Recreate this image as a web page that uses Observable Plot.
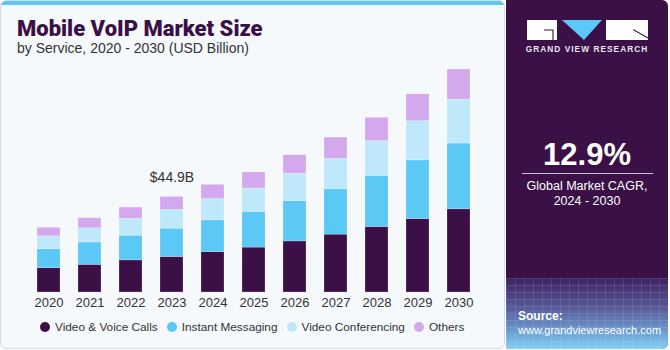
<!DOCTYPE html>
<html>
<head>
<meta charset="utf-8">
<script src="https://cdn.jsdelivr.net/npm/d3@7"></script>
<script src="https://cdn.jsdelivr.net/npm/@observablehq/plot@0.6"></script>
<style>
  html, body { margin: 0; padding: 0; background: #ffffff; }
  body { width: 670px; height: 350px; overflow: hidden; font-family: "Liberation Sans", Arial, sans-serif; }
  #wrap { position: relative; width: 670px; height: 350px; }
  #card { position: absolute; left: 0; top: 0; width: 503px; height: 347px; background: #f5f9fc; border: 1px solid #d5dbe1; border-radius: 6px; overflow: hidden; }
  #stripe { position: absolute; left: 0; top: 0; width: 100%; height: 4px; background: #5bc8f5; }
  #title { position: absolute; left: 17px; top: 16px; font-family: Roboto, "Liberation Sans", sans-serif; font-weight: 900; font-size: 22px; color: #3a1047; white-space: nowrap; }
  #subtitle { position: absolute; left: 17px; top: 40px; font-size: 14px; color: #333; white-space: nowrap; }
  #chart { position: absolute; left: 0; top: 0; }
  #legend { position: absolute; left: 40px; top: 320px; display: flex; align-items: center; font-size: 11.8px; color: #333; white-space: nowrap; }
  .item { display: flex; align-items: center; margin-right: 9px; }
  .dot { width: 10px; height: 10px; border-radius: 50%; margin-right: 5px; }
  #panel { position: absolute; left: 506px; top: 0; width: 162px; height: 349px; background: #3a1047; border-radius: 0 6px 6px 0; overflow: hidden; color: #fff; }
  #grad { position: absolute; left: 0; top: 278px; width: 100%; height: 71px;
    background:
      repeating-linear-gradient(to right, rgba(255,255,255,0.10) 0 1px, rgba(255,255,255,0) 1px 9px),
      repeating-linear-gradient(to bottom, rgba(255,255,255,0.10) 0 1px, rgba(255,255,255,0) 1px 7px),
      linear-gradient(to bottom, #3f2060, #5a5f9e 45%, #6fa6d8 80%, #86d0f2); }
  #brand { position: absolute; left: 0; top: 44px; width: 100%; text-align: center; font-size: 8.3px; font-weight: bold; letter-spacing: 1.05px; color: #e8e8f0; }
  #cagr { position: absolute; left: 0; top: 137px; width: 162px; text-align: center; font-size: 31px; font-weight: bold; }
  #rule { position: absolute; left: 16px; top: 173px; width: 131px; height: 1px; background: #c9c0d0; }
  #cagrtxt { position: absolute; left: 0; top: 179px; width: 162px; text-align: center; font-size: 12.5px; line-height: 15px; }
  #source { position: absolute; left: 12px; top: 309px; font-size: 11px; line-height: 14px; }
  #source b { font-size: 12px; }
</style>
</head>
<body>
<div id="wrap">
  <div id="card"><div id="stripe"></div></div>
  <div id="title">Mobile VoIP Market Size</div>
  <div id="subtitle">by Service, 2020 - 2030 (USD Billion)</div>
  <div id="chart"></div>
  <div id="legend"></div>
  <div id="panel">
    <div id="grad"></div>
    <svg style="position:absolute;left:20px;top:20px" width="124" height="20" viewBox="0 0 124 20">
      <rect x="1" y="0" width="30" height="20" fill="#ffffff"/>
      <path d="M18 10 H27 V20" stroke="#3a1047" stroke-width="1.1" fill="none"/>
      <polygon points="36,0 76,0 58,20" fill="#5bc8f5"/>
      <rect x="80" y="0" width="42" height="20" fill="#ffffff"/>
      <path d="M107 10 H108 L122 18" stroke="#3a1047" stroke-width="1.1" fill="none"/>
    </svg>
    <div id="brand">GRAND VIEW RESEARCH</div>
    <div id="cagr">12.9%</div>
    <div id="rule"></div>
    <div id="cagrtxt">Global Market CAGR,<br>2024 - 2030</div>
    <div id="source"><b>Source:</b><br>www.grandviewresearch.com</div>
  </div>
</div>
<script>
const years = ["2020","2021","2022","2023","2024","2025","2026","2027","2028","2029","2030"];
const series = ["Video & Voice Calls","Instant Messaging","Video Conferencing","Others"];
const colors = ["#3a1047","#5bc8f5","#bfe9fa","#d4a8ec"];
const videoVoice   = [11.4, 13.0, 15.1, 16.7, 19.0, 21.1, 24.0, 27.2, 30.8, 34.5, 39.1];
const instantMsg   = [ 8.9, 10.5, 11.6, 13.3, 14.9, 16.8, 19.0, 21.3, 24.0, 27.6, 30.9];
const videoConf    = [ 6.1,  6.7,  7.9,  8.8, 10.0, 11.0, 12.9, 14.3, 16.3, 18.4, 20.7];
const others       = [ 4.0,  4.7,  5.3,  6.1,  6.7,  7.5,  8.6, 10.0, 11.0, 12.6, 14.1];
const labelYear = "2023";
const labelText = "$44.9B";

const values = [videoVoice, instantMsg, videoConf, others];
const data = [];
years.forEach((y, i) => series.forEach((s, j) => data.push({year: y, series: s, value: values[j][i]})));
const li = years.indexOf(labelYear);
const labelData = [{year: labelYear, total: values.reduce((a, v) => a + v[li], 0), text: labelText}];

const chart = Plot.plot({
  width: 505,
  height: 312,
  marginLeft: 14,
  marginRight: 12,
  marginTop: 69,
  marginBottom: 20,
  style: {background: "transparent", fontFamily: "'Liberation Sans', Arial, sans-serif"},
  x: {domain: years, padding: 0.427, label: null, tickSize: 0, tickPadding: 5, fontSize: 13},
  y: {axis: null},
  color: {domain: series, range: colors},
  marks: [
    Plot.barY(data, {x: "year", y: "value", fill: "series", stroke: "#ffffff", strokeOpacity: 0.35, strokeWidth: 0.6}),
    Plot.text(labelData, {x: "year", y: "total", text: "text", dy: -19, fontSize: 14, fill: "#333"})
  ]
});
chart.querySelectorAll("g[aria-label='x-axis tick label'] text, g[aria-label='x-axis'] text").forEach(t => { t.setAttribute("font-size", "13"); t.setAttribute("fill", "#333"); });
document.getElementById("chart").appendChild(chart);

const legend = document.getElementById("legend");
series.forEach((s, j) => {
  const it = document.createElement("div"); it.className = "item";
  const d = document.createElement("div"); d.className = "dot"; d.style.background = colors[j];
  const t = document.createElement("span"); t.textContent = s;
  it.appendChild(d); it.appendChild(t); legend.appendChild(it);
});
</script>
</body>
</html>
